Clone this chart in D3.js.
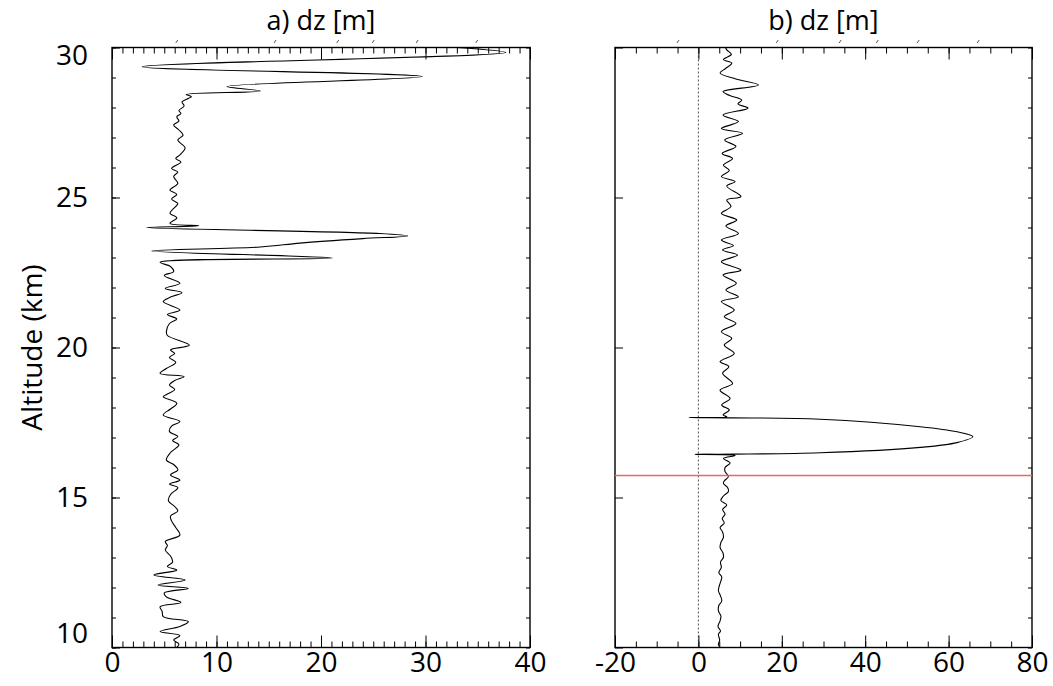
<!DOCTYPE html>
<html>
<head>
<meta charset="utf-8">
<script src="https://cdn.jsdelivr.net/npm/d3@7"></script>
<style>
  body { margin: 0; background: #fff; }
  text { font-family: "Open Sans", "Noto Sans", sans-serif; }
</style>
</head>
<body>
<div id="chart"></div>
<script>
// panel a) altitude (km) and dz (m)
var leftAlt = [30.00, 29.83, 29.36, 29.03, 28.70, 28.55, 28.43, 28.36, 28.30, 28.19, 28.05, 27.90, 27.80, 27.69,
  27.55, 27.42, 27.25, 27.08, 26.92, 26.80, 26.65, 26.42, 26.30, 26.18, 25.97, 25.85, 25.70, 25.47, 25.25,
  25.10, 24.95, 24.80, 24.60, 24.47, 24.32, 24.14, 24.06, 24.00, 23.80, 23.72, 23.63, 23.48, 23.35, 23.22,
  22.98, 22.84, 22.70, 22.53, 22.40, 22.14, 21.97, 21.83, 21.68, 21.53, 21.25, 21.10, 20.95, 20.80, 20.53,
  20.40, 20.08, 19.92, 19.80, 19.67, 19.50, 19.30, 19.14, 19.03, 18.90, 18.75, 18.60, 18.45, 18.36, 18.14,
  17.95, 17.75, 17.53, 17.38, 17.20, 17.03, 16.90, 16.75, 16.50, 16.25, 16.10, 15.92, 15.75, 15.58, 15.45,
  15.33, 15.10, 14.89, 14.70, 14.55, 14.38, 14.22, 14.00, 13.75, 13.53, 13.40, 13.25, 13.05, 12.85, 12.70,
  12.58, 12.42, 12.25, 12.08, 11.97, 11.82, 11.69, 11.50, 11.36, 11.20, 11.03, 10.86, 10.70, 10.53, 10.40,
  10.25, 10.12, 10.00];
var leftDz = [33.0, 37.7, 2.9, 29.7, 11.0, 14.2, 7.1, 7.6, 7.3, 6.7, 6.9, 6.4, 6.6, 6.2,
  6.4, 5.9, 6.4, 6.8, 6.3, 6.6, 7.0, 6.5, 6.1, 6.6, 5.7, 6.3, 5.9, 6.3, 5.55,
  6.2, 5.7, 6.3, 5.8, 5.55, 6.2, 5.55, 8.3, 3.3, 25.6, 28.3, 24.0, 18.0, 14.2, 3.8,
  21.1, 4.6, 5.6, 5.9, 5.0, 6.5, 5.1, 6.7, 5.6, 4.9, 6.5, 5.3, 6.2, 5.5, 5.2,
  5.3, 7.4, 5.6, 6.0, 5.5, 6.1, 5.2, 4.6, 6.9, 6.0, 5.5, 6.0, 5.3, 4.9, 6.2,
  5.6, 4.9, 6.5, 5.7, 5.5, 6.3, 5.8, 6.4, 5.6, 5.2, 5.9, 6.3, 5.6, 6.5, 5.5,
  6.3, 5.6, 5.4, 6.0, 6.3, 5.6, 5.7, 6.1, 6.5, 5.1, 5.3, 5.1, 5.6, 5.8, 5.3,
  6.2, 4.0, 7.0, 4.4, 7.3, 5.0, 5.2, 6.6, 4.6, 4.8, 4.9, 7.3, 6.5, 4.6, 6.5,
  5.9, 6.4, 6.2];

// panel b) altitude (km) and dz (m)
var rightAlt = [30.00, 29.92, 29.77, 29.60, 29.48, 29.30, 29.15, 28.95, 28.75, 28.53, 28.40, 28.25, 28.12, 27.98,
  27.75, 27.53, 27.30, 27.14, 26.92, 26.70, 26.47, 26.30, 26.08, 25.90, 25.70, 25.53, 25.38, 25.03, 24.92,
  24.70, 24.47, 24.25, 24.05, 23.80, 23.58, 23.40, 23.25, 23.08, 22.86, 22.58, 22.42, 22.14, 21.92, 21.69,
  21.53, 21.25, 21.03, 20.80, 20.53, 20.30, 20.08, 19.80, 19.53, 19.36, 19.14, 18.80, 18.58, 18.30, 18.08,
  17.92, 17.75, 17.69, 17.665, 17.655, 17.61, 17.36, 17.19, 17.03, 16.83, 16.67, 16.49, 16.445, 16.44, 16.40,
  16.30, 16.15, 16.00, 15.86, 15.70, 15.55, 15.47, 15.33, 15.20, 15.05, 14.90, 14.75, 14.60, 14.45, 14.30,
  14.15, 14.00, 13.85, 13.67, 13.50, 13.33, 13.15, 13.00, 12.85, 12.67, 12.50, 12.35, 12.22, 12.05, 11.89,
  11.72, 11.55, 11.40, 11.22, 11.05, 10.89, 10.70, 10.55, 10.44, 10.25, 10.10, 10.00];
var rightDz = [6.5, 6.8, 7.9, 6.0, 8.0, 6.5, 5.2, 9.0, 14.4, 5.9, 7.5, 10.4, 9.5, 11.9,
  5.9, 9.6, 5.5, 10.6, 6.3, 9.0, 5.7, 8.2, 6.0, 7.4, 5.5, 8.8, 6.8, 10.2, 6.8,
  7.8, 5.5, 9.2, 6.6, 9.6, 5.5, 8.4, 5.8, 9.4, 5.5, 10.2, 5.9, 9.1, 6.6, 9.6,
  5.5, 8.6, 6.2, 9.0, 5.5, 8.0, 6.2, 8.6, 5.2, 7.3, 5.8, 8.2, 5.2, 7.6, 5.6,
  7.4, 5.9, 6.8, -2.2, 7.6, 29.2, 53.2, 62.0, 65.8, 62.0, 53.2, 29.2, 8.8, -0.8, 8.8,
  6.0, 7.6, 6.4, 6.4, 7.2, 6.2, 6.0, 7.0, 7.2, 6.0, 5.4, 6.8, 5.8, 6.4, 5.7,
  6.2, 5.2, 5.8, 6.0, 5.4, 5.2, 5.9, 6.0, 5.3, 5.5, 4.9, 5.6, 5.4, 5.0, 4.8,
  5.3, 5.6, 4.9, 4.8, 5.4, 5.2, 4.7, 5.3, 4.8, 5.1, 4.8, 5.2];

var tropopauseAlt = 15.73;
var altMajor = [10, 15, 20, 25, 30];
var altMinor = d3.range(10, 31, 1);
var leftMajor = [0, 10, 20, 30, 40];
var rightMajor = [-20, 0, 20, 40, 60, 80];
// stray marks above the top axes
var leftStray = [6.2, 15.6, 21.6, 25, 29.2, 34.9];
var rightStray = [-4.9, 18.9, 34, 42.9, 52.7, 67.1];

var width = 1053, height = 686;
var plotTop = 47.5, plotBottom = 647.5;
var fontSize = 28;

var svg = d3.select('#chart').append('svg')
    .attr('width', width)
    .attr('height', height);

var y = d3.scaleLinear().domain([10, 30]).range([plotBottom, plotTop]);

function drawPanel(cfg) {
    var x = d3.scaleLinear().domain(cfg.domain).range([cfg.x0, cfg.x1]);
    var g = svg.append('g');

    var clipId = 'clip-' + cfg.id;
    svg.append('clipPath').attr('id', clipId)
        .append('rect')
        .attr('x', cfg.x0).attr('y', plotTop)
        .attr('width', cfg.x1 - cfg.x0).attr('height', plotBottom - plotTop);

    //bottom axis
    g.append('g').attr('transform', 'translate(0,' + plotBottom + ')')
        .call(d3.axisBottom(x).tickValues(cfg.minor).tickSize(-6).tickFormat(''));
    g.append('g').attr('transform', 'translate(0,' + plotBottom + ')')
        .call(d3.axisBottom(x).tickValues(cfg.major).tickSize(-12).tickPadding(5)
            .tickFormat(function (d) { return String(d); }));
    //top axis
    g.append('g').attr('transform', 'translate(0,' + plotTop + ')')
        .call(d3.axisTop(x).tickValues(cfg.minor).tickSize(-6).tickFormat(''));
    g.append('g').attr('transform', 'translate(0,' + plotTop + ')')
        .call(d3.axisTop(x).tickValues(cfg.major).tickSize(-12).tickFormat(''));
    //left axis
    if (cfg.yMinorLeft) {
        g.append('g').attr('transform', 'translate(' + cfg.x0 + ',0)')
            .call(d3.axisLeft(y).tickValues(altMinor).tickSize(-4).tickFormat(''));
    }
    var leftAx = g.append('g').attr('transform', 'translate(' + cfg.x0 + ',0)')
        .call(d3.axisLeft(y).tickValues(altMajor).tickSize(-8).tickPadding(24)
            .tickFormat(cfg.yLabels ? function (d) { return String(d); } : ''));
    //right axis
    g.append('g').attr('transform', 'translate(' + cfg.x1 + ',0)')
        .call(d3.axisRight(y).tickValues(altMinor).tickSize(-4).tickFormat(''));

    g.selectAll('.domain').remove();
    g.selectAll('.tick line').attr('stroke', '#000').attr('stroke-width', 1);
    g.selectAll('.tick text').attr('font-size', fontSize).attr('fill', '#000')
        .style('font-family', '"Open Sans", sans-serif');
    // keep end labels inside the frame height
    leftAx.selectAll('.tick text').attr('dy', function (d) {
        if (d === 30) return '0.6em';
        if (d === 10) return '-0.18em';
        return '0.32em';
    });

    //frame
    g.append('rect')
        .attr('x', cfg.x0).attr('y', plotTop)
        .attr('width', cfg.x1 - cfg.x0).attr('height', plotBottom - plotTop)
        .attr('fill', 'none').attr('stroke', '#000').attr('stroke-width', 1.4);

    //zero line
    if (cfg.zeroLine) {
        g.append('line')
            .attr('x1', x(0)).attr('x2', x(0))
            .attr('y1', plotTop).attr('y2', plotBottom)
            .attr('stroke', '#222').attr('stroke-width', 0.8)
            .attr('stroke-dasharray', '2,2');
    }

    //profile
    var pts = cfg.alt.map(function (a, i) { return [cfg.dz[i], a]; });
    var line = d3.line()
        .x(function (d) { return x(d[0]); })
        .y(function (d) { return y(d[1]); })
        .curve(d3.curveCatmullRom.alpha(0.5));
    g.append('path')
        .datum(pts)
        .attr('d', line)
        .attr('clip-path', 'url(#' + clipId + ')')
        .attr('fill', 'none')
        .attr('stroke', '#000')
        .attr('stroke-width', 1.1);

    //tropopause
    if (cfg.tropo) {
        g.append('line')
            .attr('x1', cfg.x0).attr('x2', cfg.x1)
            .attr('y1', y(tropopauseAlt)).attr('y2', y(tropopauseAlt))
            .attr('stroke', '#f06464').attr('stroke-width', 1.5);
    }

    //stray marks
    g.selectAll('.stray').data(cfg.stray).enter().append('line')
        .attr('x1', function (d) { return x(d) - 1; })
        .attr('x2', function (d) { return x(d) + 1; })
        .attr('y1', 43).attr('y2', 40)
        .attr('stroke', '#555').attr('stroke-width', 1);

    //title
    g.append('text')
        .attr('x', (cfg.x0 + cfg.x1) / 2)
        .attr('y', 30)
        .attr('text-anchor', 'middle')
        .attr('font-size', 27)
        .text(cfg.title);
}

drawPanel({
    id: 'a', title: 'a) dz [m]', domain: [0, 40], x0: 112, x1: 530,
    major: leftMajor, minor: d3.range(0, 41, 1),
    alt: leftAlt, dz: leftDz, yLabels: true, yMinorLeft: true,
    zeroLine: false, tropo: false, stray: leftStray
});
drawPanel({
    id: 'b', title: 'b) dz [m]', domain: [-20, 80], x0: 615, x1: 1032,
    major: rightMajor, minor: d3.range(-20, 81, 5),
    alt: rightAlt, dz: rightDz, yLabels: false, yMinorLeft: false,
    zeroLine: true, tropo: true, stray: rightStray
});

svg.append('text')
    .attr('transform', 'translate(42,' + (plotTop + plotBottom) / 2 + ') rotate(-90)')
    .attr('text-anchor', 'middle')
    .attr('font-size', fontSize)
    .text('Altitude (km)');
</script>
</body>
</html>
